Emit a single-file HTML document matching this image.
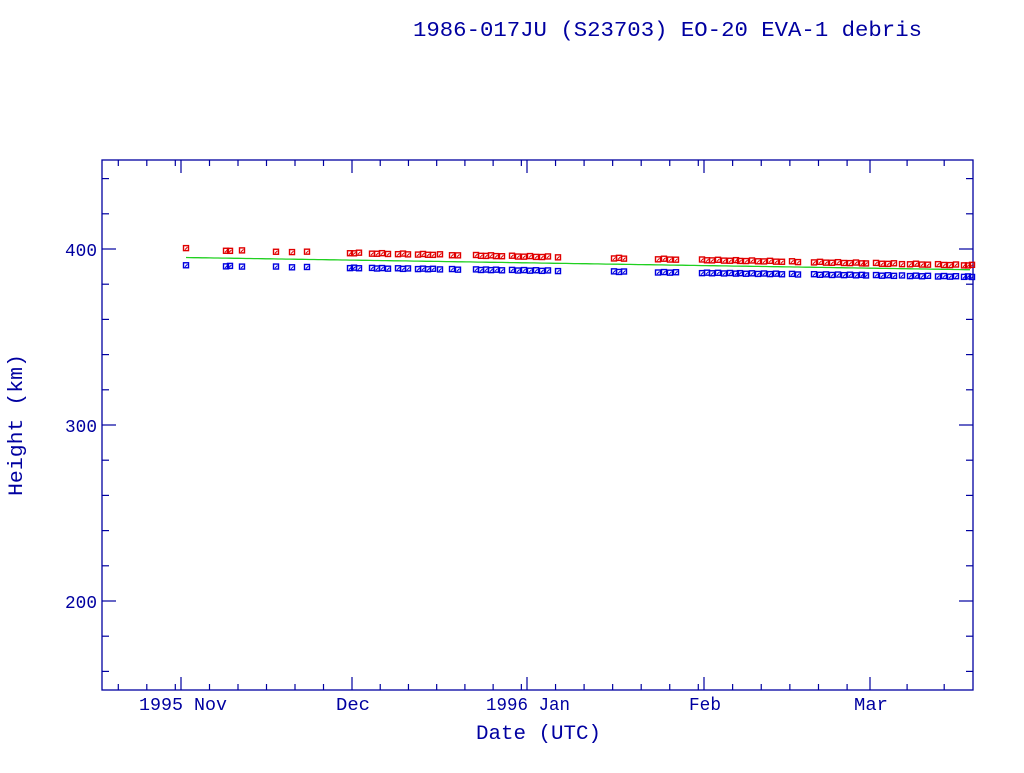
<!DOCTYPE html>
<html><head><meta charset="utf-8"><style>
html,body{margin:0;padding:0;background:#fff;}
svg text{font-family:"Liberation Mono",monospace;fill:#0000a0;}
</style></head><body>
<svg id="s" width="1024" height="768" xmlns="http://www.w3.org/2000/svg">
<rect width="1024" height="768" fill="#fff"/>
<text x="413" y="36" font-size="21" textLength="509" lengthAdjust="spacingAndGlyphs">1986-017JU (S23703) EO-20 EVA-1 debris</text>
<rect x="102" y="160" width="871" height="530" fill="none" stroke="#0000a0" stroke-width="1.3"/>
<g font-size="18">
<text x="65" y="256" textLength="32" lengthAdjust="spacingAndGlyphs">400</text>
<text x="65" y="432" textLength="32" lengthAdjust="spacingAndGlyphs">300</text>
<text x="65" y="608" textLength="32" lengthAdjust="spacingAndGlyphs">200</text>
<text x="139" y="710" textLength="88" lengthAdjust="spacingAndGlyphs">1995 Nov</text>
<text x="336" y="710" textLength="34" lengthAdjust="spacingAndGlyphs">Dec</text>
<text x="486" y="710" textLength="84" lengthAdjust="spacingAndGlyphs">1996 Jan</text>
<text x="689" y="710" textLength="32" lengthAdjust="spacingAndGlyphs">Feb</text>
<text x="854" y="710" textLength="34" lengthAdjust="spacingAndGlyphs">Mar</text>
<text x="476" y="739" font-size="20" textLength="125" lengthAdjust="spacingAndGlyphs">Date (UTC)</text>
<text transform="translate(22,496) rotate(-90)" font-size="20" textLength="142" lengthAdjust="spacingAndGlyphs">Height (km)</text>
</g>
<g id="ticks" stroke="#0000a0" stroke-width="1.2"></g>
<g id="data"></g>
</svg>
<script>
var ns="http://www.w3.org/2000/svg";
function el(p,n,a){var e=document.createElementNS(ns,n);for(var k in a)e.setAttribute(k,a[k]);p.appendChild(e);return e;}
var T=document.getElementById('ticks'),D=document.getElementById('data');
function Y(v){return 249+(400-v)*1.76;}
for(var v=160;v<=440;v+=20){var y=Y(v),L=(v%100==0)?14:7;
el(T,'line',{x1:102,x2:102+L,y1:y,y2:y});el(T,'line',{x1:973-L,x2:973,y1:y,y2:y});}
var majors=[181,352,527,704,870];
majors.forEach(function(x){el(T,'line',{x1:x,x2:x,y1:690,y2:677});el(T,'line',{x1:x,x2:x,y1:160,y2:173});});
[[181,352,30],[352,527,31],[527,704,31],[704,870,29],[870,1100,31],[12,181,31]].forEach(function(m){
 var s=m[0],e=m[1],n=m[2],st=(e-s)/n;
 if(m[0]==12){s=181-31*5.7;st=5.7;}
 for(var k=5;k<n;k+=5){var x=s+k*st;if(x<104||x>971)continue;
 el(T,'line',{x1:x,x2:x,y1:690,y2:684});el(T,'line',{x1:x,x2:x,y1:160,y2:166});}
});
var xs=[186,226,230,242,276,292,307,350,354,359,372,377,382,388,398,403,408,418,423,428,433,440,452,458,476,481,486,491,496,502,512,518,524,530,536,542,548,558,614,619,624,658,664,670,676,702,707,712,718,724,730,736,740,746,752,758,764,770,776,782,792,798,814,820,826,832,838,844,850,856,862,866,876,882,888,894,902,910,916,922,928,938,944,950,956,964,968,972];
function f(x,a,b){return a+(b-a)*(x-181)/(973-181);}
var pts=[];for(var x=186;x<=973;x+=4){var g=f(x,395.2,388.2);pts.push(x+','+Y(g).toFixed(1));}
el(D,'polyline',{points:pts.join(' '),fill:'none',stroke:'#20d020','stroke-width':1.3});
xs.forEach(function(x,i){
 var r=f(x,399.5,390.6)+(i%3==0?0.4:0),b=f(x,390.8,384.4)-(i%2?0.3:0);
 if(x==186)r=400.5;
 [[r,'#e00000'],[b,'#0000e0']].forEach(function(p){
  var y=Y(p[0]);
  el(D,'rect',{x:x-2.5,y:y-2.5,width:5,height:5,fill:'none',stroke:p[1],'stroke-width':1.4});
  el(D,'line',{x1:x-1,y1:y+1.5,x2:x+1.5,y2:y-1,stroke:p[1],'stroke-width':1});
 });
});
</script>
</body></html>
